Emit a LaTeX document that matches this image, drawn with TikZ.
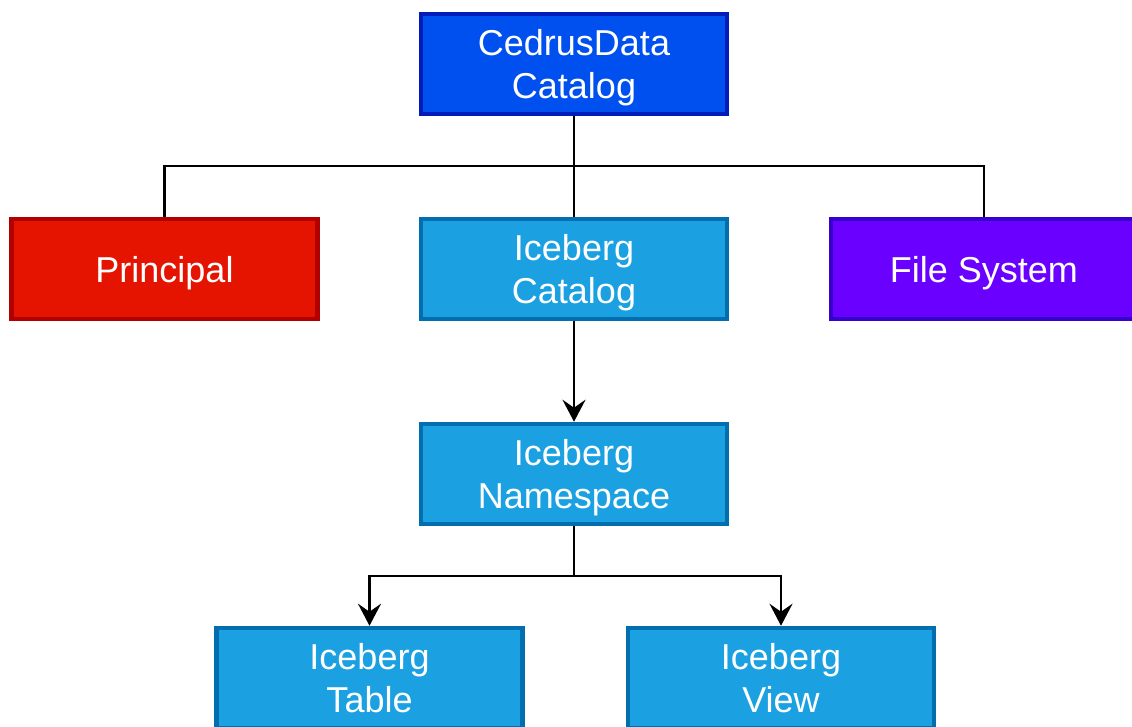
\documentclass[tikz,border=0pt]{standalone}
\usepackage{fontspec}
\setmainfont{Liberation Sans}
\usetikzlibrary{arrows.meta}
\definecolor{cfill}{HTML}{0050EF}\definecolor{cline}{HTML}{001DBC}
\definecolor{pfill}{HTML}{E51400}\definecolor{pline}{HTML}{B20000}
\definecolor{ifill}{HTML}{1BA1E2}\definecolor{iline}{HTML}{006EAF}
\definecolor{ffill}{HTML}{6A00FF}\definecolor{fline}{HTML}{3700CC}
\tikzset{
  box/.style={rectangle, line width=4.5pt, minimum width=306pt, minimum height=100pt,
    text=white, align=center, inner sep=0pt, text depth=0pt,
    font=\fontsize{36}{43}\selectfont},
  cbox/.style={box, fill=cfill, draw=cline},
  pbox/.style={box, fill=pfill, draw=pline},
  ibox/.style={box, fill=ifill, draw=iline},
  fbox/.style={box, fill=ffill, draw=fline},
  conn/.style={line width=2.7pt, black},
  arr/.style={conn, -{Stealth[length=22pt,width=23pt,inset=8pt]}}
}
\begin{document}
\begin{tikzpicture}[x=1pt,y=-1pt]
\useasboundingbox (0,0) rectangle (1132,727);
\node[cbox] (cedrus) at (574,64) {CedrusData\\Catalog};
\node[pbox] (princ) at (164.5,269) {Principal};
\node[ibox] (cat) at (574,269) {Iceberg\\Catalog};
\node[fbox] (fs) at (984,269) {File System};
\node[ibox] (ns) at (574,474) {Iceberg\\Namespace};
\node[ibox] (tab) at (369.5,678) {Iceberg\\Table};
\node[ibox] (view) at (781,678) {Iceberg\\View};
\coordinate (j1) at (574,166);
\coordinate (j2) at (574,576);
\draw[conn] (cedrus.south) -- (cat.north);
\draw[conn] (j1) -| (princ.north);
\draw[conn] (j1) -| (fs.north);
\draw[arr] (cat.south) -- (ns.north);
\draw[conn] (ns.south) -- (j2);
\draw[arr] (j2) -| (tab.north);
\draw[arr] (j2) -| (view.north);
\end{tikzpicture}
\end{document}
